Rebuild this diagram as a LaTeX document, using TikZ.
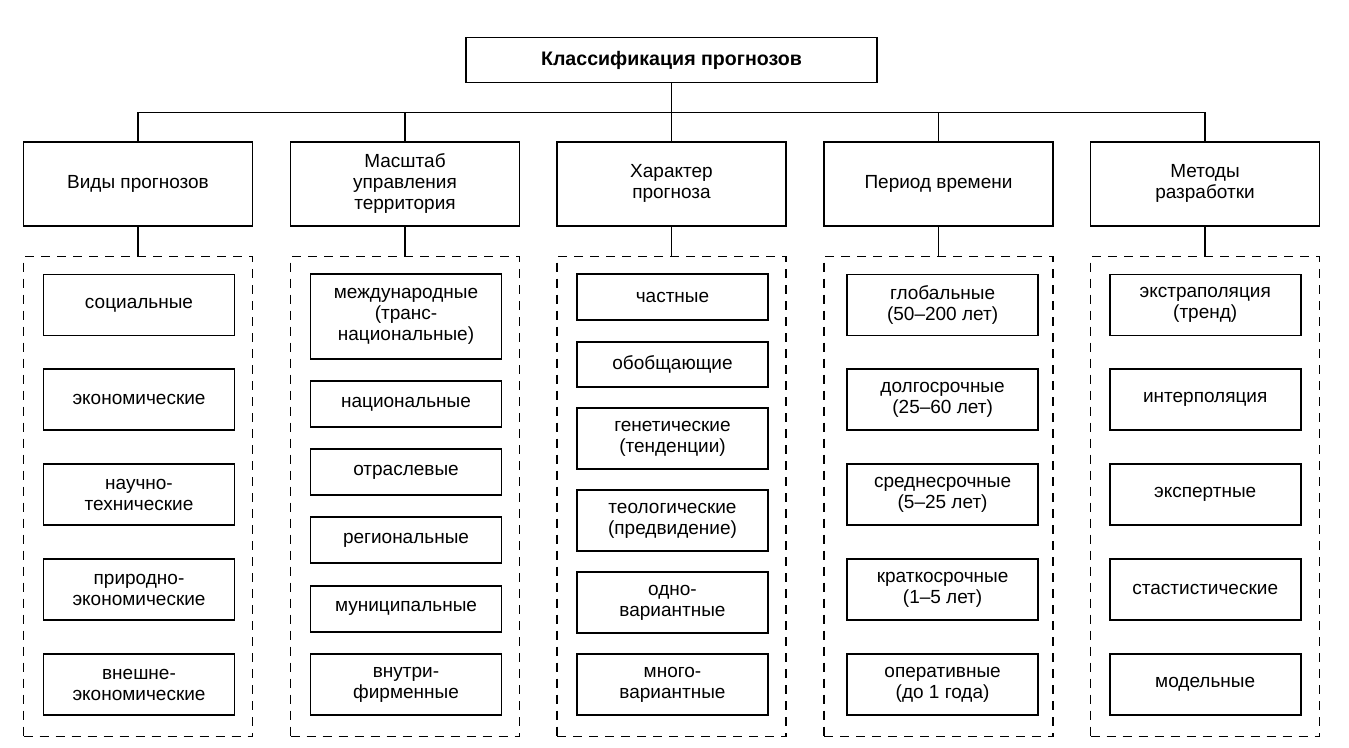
\documentclass[tikz,border=0pt]{standalone}
\usepackage{fontspec}
\setmainfont{Liberation Sans}
\begin{document}
\begin{tikzpicture}[x=1pt,y=-1pt,
  every node/.style={font=\fontsize{19}{21}\selectfont, align=center, inner sep=0pt, outer sep=0pt},
  topbox/.style={draw, line width=1.8pt, minimum width=411pt, minimum height=45pt, font=\fontsize{19.6}{21}\selectfont\bfseries},
  headbox/.style={draw, line width=1.8pt, minimum width=229pt, minimum height=84pt},
  groupbox/.style={draw, line width=1.8pt, dash pattern=on 9pt off 7pt, minimum width=229pt, minimum height=480pt},
  itembox/.style={draw, line width=1.8pt, minimum width=191pt},
  link/.style={line width=1.6pt}]
\useasboundingbox (0,0) rectangle (1349,747);

% title
\node[topbox] (top) at (671.5,60) {Классификация прогнозов};

% headers
\node[headbox] (h1) at (138,183.7) {Виды прогнозов};
\node[headbox] (h2) at (405,183.7) {Масштаб\\управления\\территория};
\node[headbox] (h3) at (671.5,183.7) {Характер\\прогноза};
\node[headbox] (h4) at (938.5,183.7) {Период времени};
\node[headbox] (h5) at (1205,183.7) {Методы\\разработки};

% groups
\node[groupbox] (d1) at (138,496.5) {};
\node[groupbox] (d2) at (405,496.5) {};
\node[groupbox] (d3) at (671.5,496.5) {};
\node[groupbox] (d4) at (938.5,496.5) {};
\node[groupbox] (d5) at (1205,496.5) {};

% bus
\coordinate (bL) at (138,112.5);
\coordinate (bR) at (1205,112.5);
\draw[link] (top.south) -- (top.south |- bL);
\draw[link] (h1.north) -- (bL) -- (bR) -- (h5.north);
\draw[link] (h2.north) -- (h2.north |- bL);
\draw[link] (h3.north) -- (h3.north |- bL);
\draw[link] (h4.north) -- (h4.north |- bL);
\foreach \i in {1,...,5} { \draw[link] (h\i.south) -- (d\i.north); }

% column 1
\node[itembox, minimum height=61pt] (a1) at (139,305) {социальные};
\node[itembox, minimum height=61pt] (a2) at (139,399.8) {экономические};
\node[itembox, minimum height=61pt] (a3) at (139,494.8) {научно-\\технические};
\node[itembox, minimum height=61pt] (a4) at (139,589.7) {природно-\\экономические};
\node[itembox, minimum height=61pt] (a5) at (139,684.5) {внешне-\\экономические};

% column 2
\node[itembox, minimum height=84.4pt] (b1) at (406,316.5) {международные\\(транс-\\национальные)};
\node[itembox, minimum height=45.7pt] (b2) at (406,403.9) {национальные};
\node[itembox, minimum height=45.7pt] (b3) at (406,472.2) {отраслевые};
\node[itembox, minimum height=46pt] (b4) at (406,540.3) {региональные};
\node[itembox, minimum height=46pt] (b5) at (406,608.7) {муниципальные};
\node[itembox, minimum height=61pt] (b6) at (406,684.5) {внутри-\\фирменные};

% column 3
\node[itembox, minimum height=46pt] (c1) at (672.5,297.3) {частные};
\node[itembox, minimum height=45.3pt] (c2) at (672.5,364.4) {обобщающие};
\node[itembox, minimum height=60.7pt] (c3) at (672.5,438.7) {генетические\\(тенденции)};
\node[itembox, minimum height=61pt] (c4) at (672.5,520.5) {теологические\\(предвидение)};
\node[itembox, minimum height=61pt] (c5) at (672.5,602.8) {одно-\\вариантные};
\node[itembox, minimum height=61pt] (c6) at (672.5,684.5) {много-\\вариантные};

% column 4
\node[itembox, minimum height=61pt] (e1) at (942.6,305) {глобальные\\(50–200 лет)};
\node[itembox, minimum height=61pt] (e2) at (942.6,399.8) {долгосрочные\\(25–60 лет)};
\node[itembox, minimum height=61pt] (e3) at (942.6,494.8) {среднесрочные\\(5–25 лет)};
\node[itembox, minimum height=61pt] (e4) at (942.6,589.7) {краткосрочные\\(1–5 лет)};
\node[itembox, minimum height=61pt] (e5) at (942.6,684.5) {оперативные\\(до 1 года)};

% column 5
\node[itembox, minimum height=61pt] (f1) at (1205.2,305) {экстраполяция\\(тренд)};
\node[itembox, minimum height=61pt] (f2) at (1205.2,399.8) {интерполяция};
\node[itembox, minimum height=61pt] (f3) at (1205.2,494.8) {экспертные};
\node[itembox, minimum height=61pt] (f4) at (1205.2,589.7) {стастистические};
\node[itembox, minimum height=61pt] (f5) at (1205.2,684.5) {модельные};
\end{tikzpicture}
\end{document}
